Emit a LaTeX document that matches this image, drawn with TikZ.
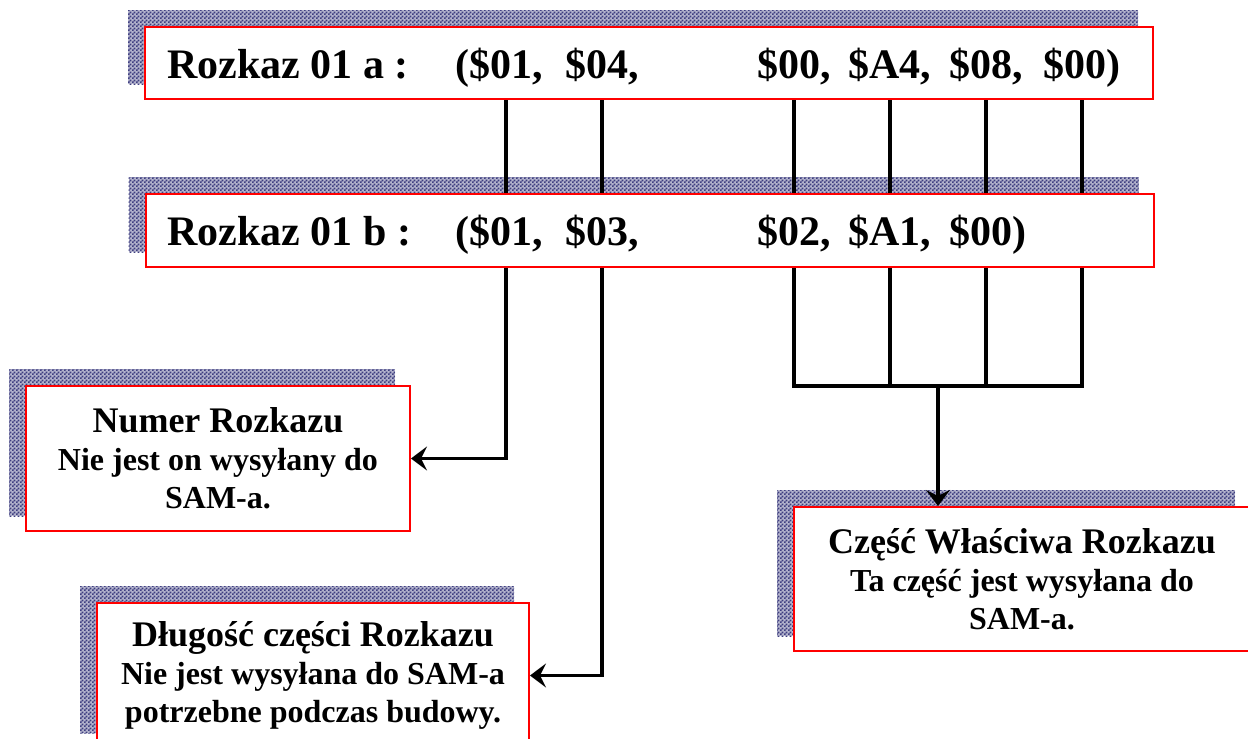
\documentclass[tikz,border=0pt]{standalone}
\usepackage{fontspec}
\setmainfont{Liberation Serif}
\usetikzlibrary{arrows.meta,patterns,backgrounds}

\pgfdeclarepatternformonly{finecheck}{\pgfpointorigin}{\pgfqpoint{2pt}{2pt}}{\pgfqpoint{2pt}{2pt}}{
  \pgfpathrectangle{\pgfpointorigin}{\pgfqpoint{1.05pt}{1.05pt}}
  \pgfpathrectangle{\pgfqpoint{1pt}{1pt}}{\pgfqpoint{1.05pt}{1.05pt}}
  \pgfusepath{fill}}

\definecolor{boxred}{RGB}{255,0,0}
\definecolor{chkblue}{RGB}{62,62,128}

\tikzset{
  box/.style={draw=boxred, line width=1pt, fill=white, inner sep=0pt, align=center,
    font=\bfseries\fontsize{16}{19}\selectfont},
  rowtext/.style={anchor=base west, inner sep=0pt, font=\bfseries\fontsize{21}{25}\selectfont},
  conn/.style={line width=1.6pt},
  shade box/.style={fill=chkblue!40!white, postaction={pattern=finecheck, pattern color=chkblue}}
}
\newcommand{\boxhead}[1]{{\fontsize{18}{19}\selectfont #1}}

\begin{document}
\begin{tikzpicture}[x=0.5pt, y=-0.5pt, >={Stealth[length=8pt,width=12pt,inset=3pt]}]
  \useasboundingbox (0,0) rectangle (1248,739);

  % boxes
  \node[box, minimum width=504pt, minimum height=36pt] (rowa) at (649,63) {};
  \node[box, minimum width=504pt, minimum height=36.5pt] (rowb) at (649.5,230.5) {};
  \node[box, minimum width=192pt, minimum height=72.5pt] (numer) at (218,458.5)
    {\boxhead{Numer Rozkazu}\\Nie jest on wysyłany do\\SAM-a.};
  \node[box, minimum width=216pt, minimum height=72.5pt] (dlug) at (313,675.5)
    {\boxhead{Długość części Rozkazu}\\Nie jest wysyłana do SAM-a\\potrzebne podczas budowy.};
  \node[box, minimum width=228pt, minimum height=72pt] (czesc) at (1022,579)
    {\boxhead{Część Właściwa Rozkazu}\\Ta część jest wysyłana do\\SAM-a.};

  % shadows
  \begin{scope}[on background layer]
    \foreach \b in {rowa,rowb,numer,dlug,czesc}
      \path[shade box] ([shift={(-16,-16)}]\b.north west) rectangle ([shift={(-16,-16)}]\b.south east);
  \end{scope}

  % row texts
  \node[rowtext] (la) at (167,78) {Rozkaz 01 a :};
  \foreach \x/\t [count=\i] in {455/{(\$01,}, 565/{\$04,}, 757/{\$00,}, 848/{\$A4,}, 949/{\$08,}, 1043/{\$00)}}
    \node[rowtext] (a\i) at (\x,78) {\t};
  \node[rowtext] (lb) at (167,245) {Rozkaz 01 b :};
  \foreach \x/\t [count=\i] in {455/{(\$01,}, 565/{\$03,}, 757/{\$02,}, 848/{\$A1,}, 949/{\$00)}}
    \node[rowtext] (b\i) at (\x,245) {\t};

  % connectors
  \foreach \n/\x in {1/506, 2/602, 3/794, 4/890, 5/986, 6/1082}
    \coordinate (c\n) at (\x,0);
  \coordinate (bus) at (938,386);
  \foreach \n in {1,...,6}
    \draw[conn] (rowa.south -| c\n) -- (rowb.north -| c\n);
  \draw[conn,->] (rowb.south -| c1) |- (numer.east);
  \draw[conn,->] (rowb.south -| c2) |- (dlug.east);
  \draw[conn] (rowb.south -| c3) |- (bus) -| (rowb.south -| c6);
  \foreach \n in {4,5}
    \draw[conn] (rowb.south -| c\n) -- (bus -| c\n);
  \draw[conn,->] (bus) -- (bus |- czesc.north);
\end{tikzpicture}
\end{document}
